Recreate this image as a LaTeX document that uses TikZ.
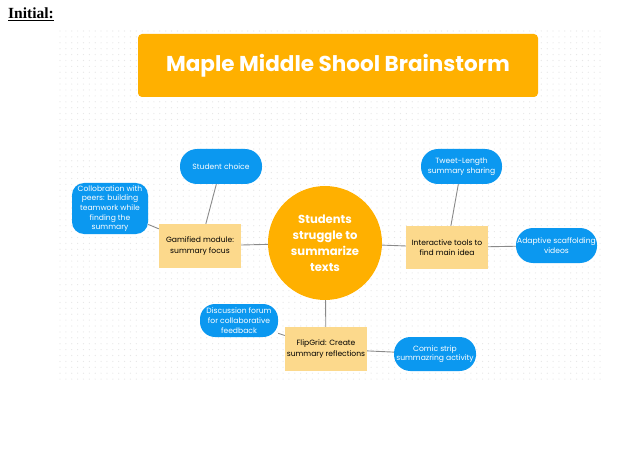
\documentclass[tikz,border=0pt]{standalone}
\usepackage{fontspec}
\setmainfont{Poppins}
\newfontfamily\serifb{Liberation Serif}
\definecolor{orng}{HTML}{FFB000}
\definecolor{blu}{HTML}{0B98F0}
\definecolor{yel}{HTML}{FCD98C}
\definecolor{lin}{HTML}{8A8A8A}
\definecolor{dotc}{HTML}{E6E6E6}
\begin{document}
\begin{tikzpicture}[x=1pt,y=-1pt,
  pill/.style={fill=blu, text=white, align=center, font=\fontsize{7.6}{9.7}\selectfont, inner sep=0pt},
  ybox/.style={fill=yel, align=center, font=\fontsize{7.6}{10.2}\selectfont, minimum width=82pt, minimum height=44pt, inner sep=0pt},
  conn/.style={draw=lin, line width=0.9pt}]
\useasboundingbox (0,0) rectangle (626,449);
\fill[white] (0,0) rectangle (626,449);
\foreach \i in {0,...,92} {\foreach \j in {0,...,59} {\fill[dotc] (60+\i*5.87, 31+\j*5.9) circle (0.6);}}
\node[anchor=base west, font=\serifb\bfseries\fontsize{15.5}{18}\selectfont, inner sep=0pt] (init) at (8,18.5) {\underline{Initial:}};
\node[fill=orng, rounded corners=4pt, minimum width=400pt, minimum height=63pt, text=white, font=\bfseries\fontsize{21.5}{24}\selectfont] (title) at (338,65.5) {Maple Middle Shool Brainstorm};
\node[circle, fill=orng, minimum size=114pt, inner sep=0pt, text=white, align=center, font=\bfseries\fontsize{11.6}{16}\selectfont] (c) at (325,243) {Students\\struggle to\\summarize\\texts};
\node[ybox] (gam) at (200,246) {Gamified module:\\summary focus};
\node[ybox, minimum height=43pt] (int) at (447,247.5) {Interactive tools to\\find main idea};
\node[ybox] (flip) at (326,349) {FlipGrid: Create\\summary reflections};
\node[pill, minimum width=82pt, minimum height=35pt, rounded corners=17pt] (sc) at (221,166.5) {Student choice};
\node[pill, minimum width=76pt, minimum height=51pt, rounded corners=12pt] (col) at (110,208.5) {Collobration with\\peers: building\\teamwork while\\finding the\\summary};
\node[pill, minimum width=81pt, minimum height=35pt, rounded corners=17pt] (tw) at (461.5,166.5) {Tweet-Length\\summary sharing};
\node[pill, minimum width=81pt, minimum height=35pt, rounded corners=17pt] (ad) at (556.5,245.5) {Adaptive scaffolding\\videos};
\node[pill, minimum width=78pt, minimum height=33pt, rounded corners=15pt] (dis) at (239,320.5) {Discussion forum\\for collaborative\\feedback};
\node[pill, minimum width=82pt, minimum height=34pt, rounded corners=16.5pt] (com) at (435,354) {Comic strip\\summazring activity};
\draw[conn] (sc) -- (gam);
\draw[conn] (col) -- (gam);
\draw[conn] (gam) -- (c);
\draw[conn] (c) -- (int);
\draw[conn] (tw) -- (int);
\draw[conn] (int) -- (ad);
\draw[conn] (c) -- (flip);
\draw[conn] (dis) -- (flip);
\draw[conn] (flip) -- (com);
\end{tikzpicture}
\end{document}
